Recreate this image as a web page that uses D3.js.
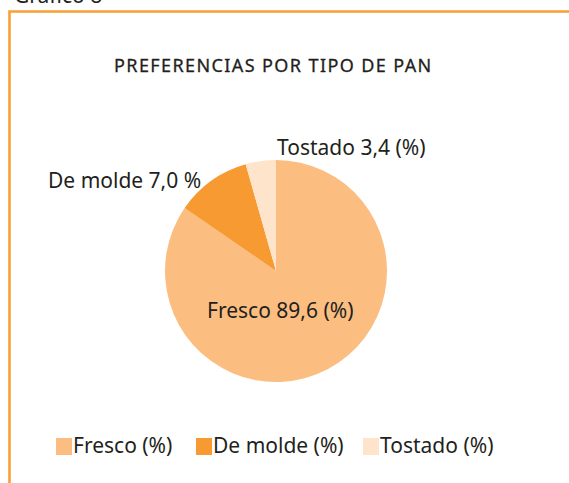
<!DOCTYPE html>
<html>
<head>
<meta charset="utf-8">
<script src="https://cdn.jsdelivr.net/npm/d3@7"></script>
<style>
  body { margin: 0; background: #fff; }
  svg text { font-family: "Noto Sans", sans-serif; fill: #231f20; }
</style>
</head>
<body>
<div id="chart"></div>
<script>
// Chart data
var categories = ["Fresco", "De molde", "Tostado"];
// slice shares as drawn in the picture
var shares = [84.6, 11.0, 4.4];
// printed labels
var sliceLabels = ["Fresco 89,6 (%)", "De molde 7,0 %", "Tostado 3,4 (%)"];
var legendLabels = ["Fresco (%)", "De molde (%)", "Tostado (%)"];
var colors = ["#fbbe80", "#f79a31", "#fee4cb"];

var width = 569, height = 483;

var svg = d3.select("#chart").append("svg")
  .attr("width", width)
  .attr("height", height);

// Heading cut off at the top
svg.append("text")
  .attr("x", 14)
  .attr("y", 3)
  .style("font-size", "21px")
  .text("Gráfico 8");

// Orange frame (top and left)
svg.append("path")
  .attr("d", "M9.5,483 V11.5 H569")
  .attr("fill", "none")
  .attr("stroke", "#f7a035")
  .attr("stroke-width", 2.6);

// Title
svg.append("text")
  .attr("x", 114)
  .attr("y", 72)
  .style("font-size", "18px")
  .style("letter-spacing", "1.4px")
  .style("stroke", "#231f20")
  .style("stroke-width", 0.3)
  .text("PREFERENCIAS POR TIPO DE PAN");

// Pie
var cx = 276, cy = 271, radius = 111;

var pie = d3.pie().sort(null).value(function (d) { return d; });
var arc = d3.arc().innerRadius(0).outerRadius(radius);

var g = svg.append("g")
  .attr("transform", "translate(" + cx + "," + cy + ")");

// draw clockwise from 12 o'clock: Fresco first
g.selectAll("path")
  .data(pie(shares))
  .enter()
  .append("path")
  .attr("d", arc)
  .attr("fill", function (d, i) { return colors[i]; });

// Slice labels
var labelPos = [[207, 318], [48, 188], [277, 155]];
svg.selectAll("text.slice")
  .data(sliceLabels)
  .enter()
  .append("text")
  .attr("class", "slice")
  .attr("x", function (d, i) { return labelPos[i][0]; })
  .attr("y", function (d, i) { return labelPos[i][1]; })
  .style("font-size", "21px")
  .text(function (d) { return d; });

// Legend
var legendX = [56, 196, 363];
var legend = svg.selectAll("g.legend")
  .data(categories)
  .enter()
  .append("g")
  .attr("class", "legend")
  .attr("transform", function (d, i) { return "translate(" + legendX[i] + ",438)"; });

legend.append("rect")
  .attr("width", 16)
  .attr("height", 17)
  .attr("fill", function (d, i) { return colors[i]; });

legend.append("text")
  .attr("x", 17)
  .attr("y", 15)
  .style("font-size", "21px")
  .text(function (d, i) { return legendLabels[i]; });
</script>
</body>
</html>
